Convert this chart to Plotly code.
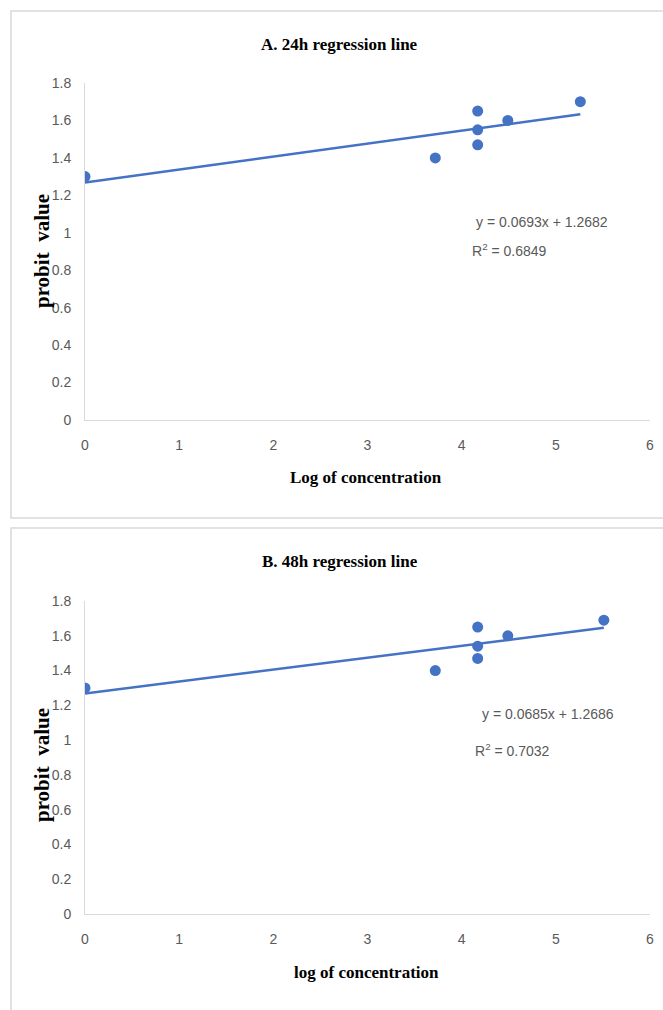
import plotly.graph_objects as go

# ---- data ----
x_24h = [0, 3.72, 4.17, 4.17, 4.17, 4.49, 5.26]
y_24h = [1.30, 1.40, 1.65, 1.55, 1.47, 1.60, 1.70]
slope_24h, intercept_24h, r2_24h = 0.0693, 1.2682, 0.6849

x_48h = [0, 3.72, 4.17, 4.17, 4.17, 4.49, 5.51]
y_48h = [1.30, 1.40, 1.65, 1.54, 1.47, 1.60, 1.69]
slope_48h, intercept_48h, r2_48h = 0.0685, 1.2686, 0.7032

x_ticks = [0, 1, 2, 3, 4, 5, 6]
y_ticks = [0, 0.2, 0.4, 0.6, 0.8, 1, 1.2, 1.4, 1.6, 1.8]

W, H = 663, 1010
BLUE = "#4472C4"
GRAY_TXT = "#595959"
SANS = "Liberation Sans Narrow, Liberation Sans, Arial"
TICK_FONT = dict(family=SANS, size=14, color=GRAY_TXT)
BOLD_SERIF = "Liberation Serif, Times New Roman, serif"


def px(x):
    return x / W


def py(y):
    return 1 - y / H


fig = go.Figure()

panels = [
    dict(x=x_24h, y=y_24h, m=slope_24h, b=intercept_24h, r2=r2_24h, xa="x", ya="y",
         title="A. 24h regression line", xtitle="Log of concentration",
         dom_y=[py(420), py(83)], title_y=44, xtitle_y=477, ytitle_y=251,
         eq=(4.13, 1.058), r2pos=(4.09, 0.908), box=(11, 518)),
    dict(x=x_48h, y=y_48h, m=slope_48h, b=intercept_48h, r2=r2_48h, xa="x2", ya="y2",
         title="B. 48h regression line", xtitle="log of concentration",
         dom_y=[py(914), py(601)], title_y=561, xtitle_y=972, ytitle_y=765,
         eq=(4.19, 1.148), r2pos=(4.12, 0.946), box=(528, 1040)),
]

annotations = []
shapes = []
for i, p in enumerate(panels):
    xmax = max(p["x"])
    fig.add_trace(go.Scatter(
        x=[0, xmax], y=[p["b"], p["b"] + p["m"] * xmax], mode="lines",
        line=dict(color=BLUE, width=2.5), xaxis=p["xa"], yaxis=p["ya"],
        showlegend=False, hoverinfo="skip"))
    fig.add_trace(go.Scatter(
        x=p["x"], y=p["y"], mode="markers",
        marker=dict(color=BLUE, size=11), xaxis=p["xa"], yaxis=p["ya"],
        showlegend=False))

    suffix = "" if i == 0 else "2"
    fig.update_layout(**{
        "xaxis" + suffix: dict(domain=[px(85), px(650)], range=[0, 6], tickvals=x_ticks,
                               showgrid=False, zeroline=False, showline=True,
                               linecolor="#d9d9d9", linewidth=1, ticks="",
                               tickfont=TICK_FONT, ticklabelstandoff=12,
                               automargin=False, anchor="y" + suffix),
        "yaxis" + suffix: dict(domain=p["dom_y"], range=[0, 1.8], tickvals=y_ticks,
                               showgrid=False, zeroline=False, showline=True,
                               linecolor="#d9d9d9", linewidth=1, ticks="",
                               tickfont=TICK_FONT, ticklabelstandoff=10,
                               automargin=False, anchor="x" + suffix),
    })

    xref, yref = p["xa"], p["ya"]
    annotations += [
        dict(text="<b>%s</b>" % p["title"], x=px(340), y=py(p["title_y"]), xref="paper", yref="paper",
             showarrow=False, font=dict(family=BOLD_SERIF, size=17, color="#000"),
             xanchor="center", yanchor="middle"),
        dict(text="<b>%s</b>" % p["xtitle"], x=px(366), y=py(p["xtitle_y"]), xref="paper", yref="paper",
             showarrow=False, font=dict(family=BOLD_SERIF, size=17, color="#000"),
             xanchor="center", yanchor="middle"),
        dict(text="<b>probit&nbsp;&nbsp;value</b>", x=px(42), y=py(p["ytitle_y"]), xref="paper", yref="paper",
             showarrow=False, textangle=-90, font=dict(family=BOLD_SERIF, size=21, color="#000"),
             xanchor="center", yanchor="middle"),
        dict(text="y = %.4fx + %.4f" % (p["m"], p["b"]), x=p["eq"][0], y=p["eq"][1],
             xref=xref, yref=yref, showarrow=False, xanchor="left", yanchor="middle",
             font=dict(family=SANS, size=14, color=GRAY_TXT)),
        dict(text="R<sup>2</sup> = %.4f" % p["r2"], x=p["r2pos"][0], y=p["r2pos"][1],
             xref=xref, yref=yref, showarrow=False, xanchor="left", yanchor="middle",
             font=dict(family=SANS, size=14, color=GRAY_TXT)),
    ]
    shapes.append(dict(type="rect", xref="paper", yref="paper",
                       x0=px(11), x1=px(700), y0=py(p["box"][1]), y1=py(p["box"][0]),
                       line=dict(color="#d9d9d9", width=1.5), fillcolor="rgba(0,0,0,0)", layer="below"))

fig.update_layout(
    width=W, height=H, margin=dict(l=0, r=0, t=0, b=0, autoexpand=False),
    paper_bgcolor="white", plot_bgcolor="white",
    annotations=annotations, shapes=shapes,
)

fig.write_html(
    "out.html",
    config={"displayModeBar": False},
    post_script="document.body.style.margin='0px';document.body.style.overflow='hidden';",
)
